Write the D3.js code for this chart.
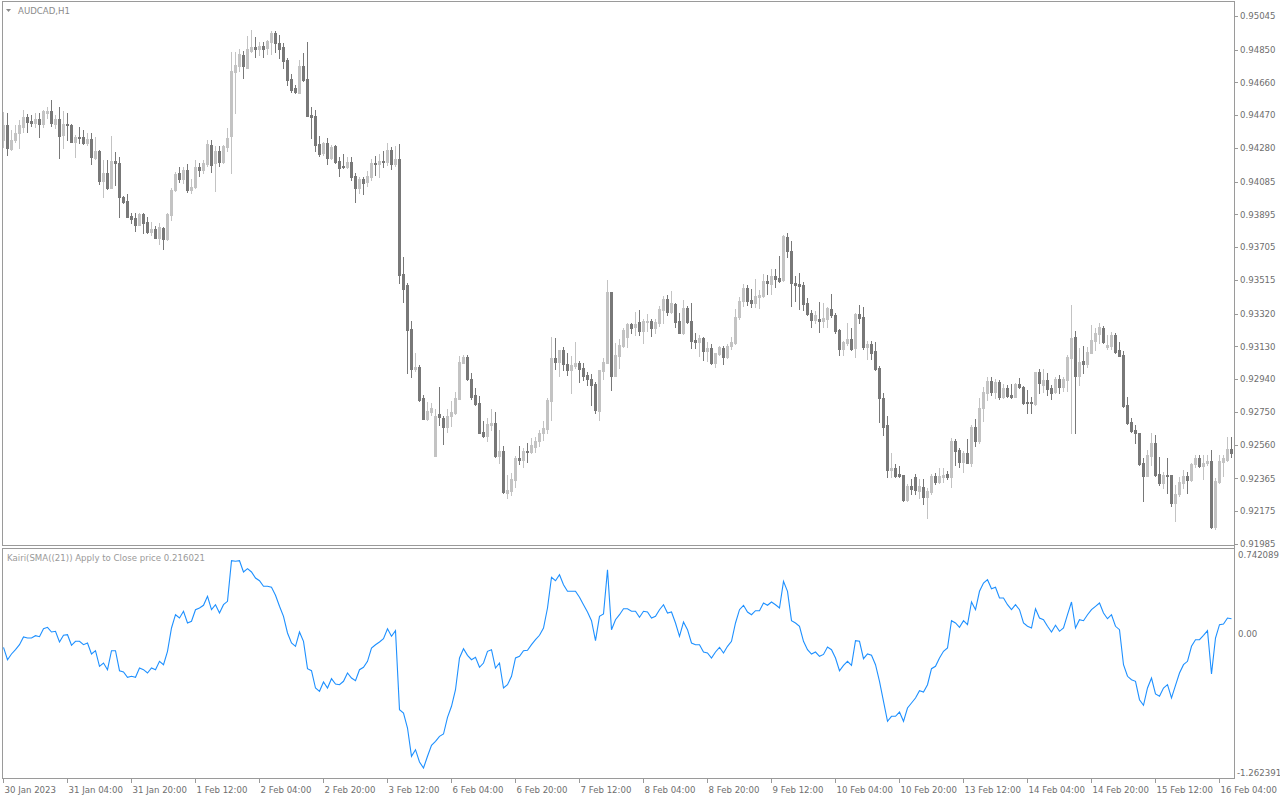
<!DOCTYPE html>
<html><head><meta charset="utf-8">
<script src="https://cdn.jsdelivr.net/npm/d3@7"></script>
<style>body{margin:0;background:#fff}svg{display:block}</style>
</head><body>
<svg id="c" width="1280" height="800"></svg>
<script>
const symbolLabel = "AUDCAD,H1";
const indicatorLabel = "Kairi(SMA((21)) Apply to Close price 0.216021";

const open = [
.94326,.94413,.94274,.94326,.94367,.94402,.94460,.94436,.94425,.94448,
.94419,.94483,.94494,.94419,.94448,.94355,.94419,.94413,.94315,.94344,
.94344,.94309,.94332,.94222,.94263,.94089,.94135,.94048,.94205,.94193,
.93996,.93973,.93886,.93874,.93834,.93897,.93851,.93793,.93810,.93758,
.93816,.93752,.93892,.94037,.94135,.94100,.94153,.94037,.94054,.94170,
.94153,.94187,.94297,.94193,.94263,.94199,.94286,.94349,.94721,.94755,
.94819,.94744,.94842,.94865,.94854,.94871,.94860,.94894,.94946,.94889,
.94865,.94790,.94680,.94628,.94599,.94755,.94680,.94471,.94465,.94303,
.94251,.94309,.94222,.94291,.94205,.94176,.94170,.94199,.94118,.94048,
.94100,.94083,.94112,.94193,.94187,.94205,.94199,.94268,.94187,.94216,
.93550,.93486,.93231,.92999,.93011,.92831,.92710,.92750,.92495,.92739,
.92715,.92663,.92727,.92744,.92825,.93034,.93068,.92941,.92849,.92802,
.92634,.92611,.92675,.92686,.92495,.92524,.92281,.92292,.92356,.92484,
.92472,.92524,.92518,.92547,.92582,.92628,.92652,.92814,.93063,.93040,
.93109,.93028,.92994,.93016,.93034,.93005,.92965,.92941,.92912,.92756,
.92988,.93034,.93445,.92959,.93074,.93132,.93184,.93260,.93242,.93271,
.93219,.93271,.93277,.93236,.93266,.93341,.93405,.93329,.93376,.93277,
.93208,.93352,.93277,.93167,.93155,.93178,.93103,.93121,.93034,.93086,
.93121,.93068,.93132,.93150,.93300,.93393,.93468,.93399,.93381,.93416,
.93422,.93509,.93492,.93538,.93526,.93515,.93764,.93683,.93497,.93492,
.93486,.93381,.93323,.93283,.93289,.93277,.93289,.93347,.93312,.93225,
.93115,.93150,.93173,.93121,.93318,.93300,.93126,.93144,.93103,.93005,
.92831,.92675,.92414,.92426,.92391,.92385,.92240,.92321,.92373,.92292,
.92316,.92258,.92287,.92379,.92345,.92373,.92391,.92373,.92582,.92530,
.92460,.92513,.92455,.92663,.92582,.92773,.92860,.92930,.92866,.92924,
.92837,.92889,.92849,.92837,.92912,.92895,.92808,.92808,.92796,.92982,
.92907,.92936,.92889,.92866,.92941,.92895,.92936,.93063,.93184,.92959,
.93045,.93028,.93092,.93161,.93202,.93236,.93126,.93132,.93196,.93109,
.93080,.92791,.92692,.92646,.92628,.92455,.92379,.92495,.92570,.92391,
.92339,.92385,.92385,.92223,.92275,.92339,.92379,.92356,.92449,.92484,
.92437,.92455,.92466,.92084,.92345,.92460,.92472,.92536];

const high = [
.94488,.94483,.94384,.94413,.94442,.94500,.94477,.94471,.94483,.94483,
.94500,.94518,.94558,.94471,.94518,.94494,.94483,.94419,.94355,.94402,
.94384,.94367,.94367,.94344,.94268,.94210,.94210,.94349,.94257,.94228,
.94002,.94013,.93903,.93903,.93903,.93903,.93880,.93851,.93828,.93845,
.93822,.93903,.94048,.94141,.94170,.94170,.94187,.94100,.94210,.94193,
.94210,.94326,.94326,.94291,.94291,.94297,.94396,.94836,.94836,.94854,
.94842,.94929,.94964,.94923,.94894,.94894,.94906,.94958,.94958,.94935,
.94889,.94802,.94709,.94645,.94790,.94831,.94894,.94518,.94500,.94349,
.94315,.94338,.94297,.94297,.94228,.94245,.94228,.94228,.94135,.94112,
.94112,.94147,.94216,.94234,.94245,.94263,.94309,.94286,.94291,.94303,
.93648,.93497,.93277,.93092,.93022,.92849,.92808,.92802,.92767,.92895,
.92727,.92767,.92814,.92866,.93074,.93080,.93080,.92976,.92889,.92843,
.92698,.92715,.92767,.92750,.92646,.92553,.92385,.92397,.92495,.92553,
.92541,.92570,.92599,.92605,.92646,.92698,.92831,.93184,.93178,.93109,
.93126,.93092,.93074,.93155,.93045,.93034,.92982,.92970,.92924,.92994,
.93063,.93515,.93445,.93150,.93173,.93236,.93266,.93266,.93329,.93341,
.93289,.93318,.93289,.93289,.93364,.93422,.93428,.93451,.93381,.93323,
.93399,.93364,.93381,.93208,.93196,.93184,.93155,.93144,.93092,.93132,
.93132,.93144,.93184,.93347,.93416,.93492,.93486,.93463,.93521,.93457,
.93550,.93544,.93579,.93579,.93654,.93776,.93787,.93741,.93538,.93555,
.93503,.93410,.93341,.93335,.93387,.93381,.93358,.93434,.93323,.93231,
.93161,.93266,.93236,.93323,.93370,.93358,.93161,.93161,.93155,.93016,
.92860,.92727,.92513,.92449,.92437,.92385,.92333,.92362,.92391,.92362,
.92362,.92310,.92391,.92397,.92426,.92426,.92408,.92599,.92594,.92541,
.92524,.92594,.92675,.92710,.92831,.92895,.92953,.92953,.92941,.92936,
.92912,.92907,.92912,.92918,.92947,.92901,.92878,.92837,.92982,.92999,
.92999,.92976,.92907,.92953,.92965,.92953,.93080,.93370,.93219,.93121,
.93132,.93126,.93254,.93236,.93266,.93248,.93196,.93213,.93208,.93155,
.93103,.92837,.92715,.92675,.92628,.92484,.92530,.92628,.92617,.92489,
.92402,.92484,.92385,.92327,.92373,.92414,.92402,.92455,.92501,.92501,
.92501,.92501,.92530,.92368,.92501,.92501,.92605,.92605];

const low = [
.94286,.94239,.94268,.94315,.94280,.94373,.94373,.94407,.94402,.94344,
.94402,.94454,.94407,.94396,.94222,.94280,.94326,.94315,.94228,.94309,
.94303,.94297,.94187,.94216,.94071,.93996,.94042,.94048,.94066,.93880,
.93961,.93880,.93845,.93799,.93834,.93787,.93787,.93776,.93758,.93723,
.93694,.93747,.93863,.94031,.94083,.94077,.94025,.94019,.94048,.94118,
.94135,.94176,.94141,.94031,.94176,.94193,.94263,.94135,.94483,.94726,
.94686,.94744,.94836,.94807,.94819,.94807,.94825,.94825,.94836,.94802,
.94744,.94645,.94605,.94599,.94599,.94668,.94465,.94338,.94263,.94234,
.94239,.94187,.94216,.94193,.94118,.94164,.94164,.94095,.93967,.94019,
.94013,.94060,.94095,.94124,.94112,.94170,.94181,.94158,.94176,.93497,
.93387,.92976,.92953,.92988,.92814,.92710,.92704,.92733,.92495,.92675,
.92565,.92634,.92669,.92739,.92825,.93034,.92936,.92825,.92791,.92628,
.92605,.92582,.92646,.92489,.92455,.92281,.92252,.92269,.92316,.92449,
.92431,.92460,.92513,.92518,.92553,.92588,.92628,.92704,.92999,.92959,
.92994,.92965,.92860,.93005,.92924,.92936,.92907,.92791,.92744,.92704,
.92941,.93034,.92878,.92959,.93005,.93126,.93126,.93208,.93196,.93196,
.93150,.93219,.93190,.93208,.93248,.93266,.93312,.93323,.93242,.93208,
.93202,.93266,.93121,.93121,.93074,.93051,.93045,.93028,.93011,.93080,
.93028,.93063,.93115,.93144,.93289,.93364,.93370,.93358,.93358,.93352,
.93416,.93434,.93434,.93474,.93503,.93509,.93648,.93364,.93393,.93347,
.93341,.93312,.93242,.93266,.93213,.93242,.93242,.93300,.93208,.93080,
.93080,.93138,.93109,.93068,.93266,.93115,.93057,.93057,.92994,.92692,
.92617,.92373,.92373,.92373,.92373,.92234,.92234,.92275,.92275,.92252,
.92217,.92136,.92275,.92333,.92339,.92345,.92362,.92316,.92443,.92431,
.92402,.92455,.92437,.92553,.92570,.92698,.92820,.92849,.92831,.92825,
.92831,.92837,.92831,.92837,.92889,.92796,.92744,.92744,.92791,.92860,
.92866,.92849,.92825,.92860,.92860,.92872,.92872,.92628,.92628,.92907,
.92976,.93011,.93092,.93109,.93150,.93150,.93115,.93115,.93092,.93074,
.92779,.92681,.92634,.92570,.92443,.92234,.92379,.92443,.92379,.92327,
.92310,.92281,.92206,.92119,.92263,.92310,.92281,.92350,.92431,.92431,
.92362,.92443,.92078,.92072,.92339,.92379,.92466,.92489];

const close = [
.94413,.94280,.94326,.94367,.94413,.94460,.94430,.94425,.94448,.94419,
.94494,.94494,.94425,.94448,.94349,.94419,.94413,.94315,.94344,.94338,
.94309,.94332,.94228,.94263,.94089,.94135,.94048,.94205,.94193,.93996,
.93967,.93880,.93868,.93834,.93897,.93845,.93793,.93810,.93758,.93822,
.93752,.93897,.94037,.94129,.94100,.94153,.94037,.94054,.94170,.94153,
.94193,.94303,.94181,.94263,.94199,.94291,.94338,.94726,.94761,.94825,
.94755,.94854,.94865,.94854,.94871,.94854,.94900,.94946,.94889,.94854,
.94784,.94674,.94616,.94605,.94755,.94674,.94465,.94460,.94297,.94245,
.94309,.94222,.94286,.94199,.94164,.94170,.94199,.94112,.94048,.94100,
.94077,.94118,.94193,.94187,.94205,.94199,.94268,.94187,.94216,.93544,
.93463,.93225,.92999,.93011,.92820,.92710,.92756,.92773,.92727,.92721,
.92663,.92727,.92750,.92831,.93040,.93068,.92941,.92837,.92796,.92628,
.92611,.92681,.92686,.92495,.92524,.92287,.92298,.92362,.92484,.92472,
.92524,.92518,.92559,.92582,.92628,.92657,.92820,.93063,.93040,.93109,
.93028,.92994,.93022,.93034,.92999,.92959,.92941,.92907,.92762,.92994,
.93040,.93445,.92959,.93080,.93138,.93225,.93260,.93236,.93260,.93219,
.93277,.93277,.93236,.93271,.93347,.93405,.93329,.93381,.93271,.93208,
.93352,.93271,.93161,.93155,.93178,.93103,.93121,.93034,.93092,.93126,
.93068,.93132,.93155,.93300,.93393,.93468,.93393,.93381,.93422,.93428,
.93509,.93497,.93538,.93521,.93509,.93770,.93683,.93497,.93486,.93480,
.93376,.93318,.93283,.93312,.93277,.93294,.93352,.93312,.93219,.93115,
.93155,.93173,.93115,.93318,.93294,.93126,.93144,.93092,.92999,.92831,
.92663,.92414,.92426,.92379,.92379,.92240,.92321,.92304,.92298,.92321,
.92258,.92292,.92379,.92345,.92379,.92385,.92373,.92582,.92524,.92460,
.92513,.92455,.92663,.92582,.92773,.92866,.92930,.92866,.92924,.92837,
.92889,.92843,.92837,.92912,.92895,.92802,.92802,.92802,.92982,.92918,
.92936,.92883,.92860,.92941,.92895,.92941,.93068,.93178,.92959,.93040,
.93028,.93097,.93167,.93208,.93242,.93155,.93138,.93196,.93097,.93074,
.92785,.92686,.92640,.92628,.92449,.92379,.92501,.92570,.92385,.92339,
.92385,.92379,.92223,.92275,.92345,.92379,.92356,.92449,.92484,.92437,
.92455,.92466,.92084,.92350,.92466,.92484,.92536,.92513];

const kairi = [
-0.1183,-0.2269,-0.1770,-0.1394,-0.0956,-0.0282,-0.0369,-0.0369,-0.0168,-0.0256,
0.0445,0.0567,0.0156,0.0217,-0.0720,-0.0133,-0.0081,-0.1008,-0.0658,-0.0658,
-0.0956,-0.0807,-0.1770,-0.1481,-0.2847,-0.2558,-0.3144,-0.1481,-0.1481,-0.3232,
-0.3345,-0.3809,-0.3722,-0.3809,-0.2995,-0.3144,-0.3433,-0.2995,-0.3144,-0.2409,
-0.2707,-0.1534,0.0506,0.1670,0.1381,0.1968,0.0944,0.1092,0.2108,0.2257,
0.2493,0.3281,0.2108,0.2545,0.1819,0.2545,0.2843,0.6397,0.6344,0.6397,
0.5408,0.5697,0.5408,0.4883,0.4646,0.4156,0.4156,0.4069,0.3368,0.2405,
0.1530,0.0068,-0.0807,-0.1096,0.0156,-0.0658,-0.3057,-0.3232,-0.4746,-0.5035,
-0.4221,-0.4746,-0.3932,-0.4396,-0.4457,-0.4159,-0.3433,-0.3871,-0.4107,-0.3144,
-0.2934,-0.2409,-0.1245,-0.0956,-0.0720,-0.0431,0.0445,-0.0221,0.0270,-0.6645,
-0.6934,-0.8247,-1.0724,-1.0147,-1.1223,-1.1749,-1.0724,-0.9762,-0.9411,-0.8974,
-0.8773,-0.7311,-0.6348,-0.4895,-0.2120,-0.1306,-0.1884,-0.2269,-0.2059,-0.2934,
-0.2558,-0.1534,-0.1394,-0.2995,-0.2558,-0.4746,-0.4457,-0.3722,-0.2120,-0.1971,
-0.1481,-0.1446,-0.0956,-0.0518,-0.0133,0.0506,0.2257,0.4944,0.4646,0.5171,
0.4296,0.3718,0.3718,0.3718,0.3193,0.2545,0.1906,0.1145,-0.0606,0.1530,
0.1731,0.5609,0.0357,0.1232,0.1670,0.2195,0.2195,0.1968,0.1968,0.1443,
0.1968,0.1906,0.1381,0.1530,0.2108,0.2545,0.1819,0.1906,0.0944,-0.0221,
0.1031,0.0357,-0.0807,-0.0956,-0.0956,-0.1595,-0.1682,-0.2120,-0.1595,-0.1183,
-0.1682,-0.1096,-0.0658,0.0944,0.2108,0.2493,0.1906,0.1670,0.2020,0.2020,
0.2694,0.2493,0.2782,0.2545,0.2257,0.4594,0.3718,0.1145,0.0944,0.0655,
-0.0658,-0.1394,-0.1770,-0.1595,-0.1971,-0.1805,-0.1157,-0.1394,-0.2120,-0.3232,
-0.2759,-0.2409,-0.2759,-0.0606,-0.0658,-0.2181,-0.1770,-0.1884,-0.2707,-0.4159,
-0.5910,-0.7661,-0.7223,-0.7223,-0.6847,-0.7661,-0.6497,-0.6059,-0.5621,-0.4982,
-0.5096,-0.4457,-0.3057,-0.2847,-0.2120,-0.1534,-0.1245,0.1145,0.0944,0.0567,
0.1145,0.0795,0.2782,0.2108,0.3718,0.4445,0.4734,0.3946,0.4069,0.3132,
0.3132,0.2545,0.2108,0.2545,0.2108,0.0944,0.0655,0.0506,0.2195,0.1381,
0.1232,0.0655,0.0156,0.0742,0.0217,0.0506,0.1670,0.2782,0.0506,0.1232,
0.1145,0.1670,0.2108,0.2405,0.2694,0.1819,0.1320,0.1670,0.0655,0.0357,
-0.2707,-0.3722,-0.4019,-0.4159,-0.5770,-0.6260,-0.4746,-0.3871,-0.5271,-0.5473,
-0.4746,-0.4457,-0.5621,-0.4510,-0.3433,-0.2707,-0.2409,-0.1096,-0.0518,-0.0518,
-0.0133,0.0270,-0.3521,-0.0369,0.0795,0.0856,0.1381,0.1320];

const timeLabels = ["30 Jan 2023","31 Jan 04:00","31 Jan 20:00","1 Feb 12:00","2 Feb 04:00",
"2 Feb 20:00","3 Feb 12:00","6 Feb 04:00","6 Feb 20:00","7 Feb 12:00","8 Feb 04:00",
"8 Feb 20:00","9 Feb 12:00","10 Feb 04:00","10 Feb 20:00","13 Feb 12:00","14 Feb 04:00",
"14 Feb 20:00","15 Feb 12:00","16 Feb 04:00"];
const timeLabelBars = [0,16,32,48,64,80,96,112,128,144,160,176,192,208,224,240,256,272,288,304];
const priceTicks = [0.95045,0.94850,0.94660,0.94470,0.94280,0.94085,0.93895,0.93705,0.93515,
0.93320,0.93130,0.92940,0.92750,0.92560,0.92365,0.92175,0.91985];
const kairiTicks = [0.742089, 0, -1.262391];
const kairiTickLabels = ["0.742089","0.00","-1.262391"];

const FONT = "8.6px 'DejaVu Sans', sans-serif";
const UP = "#c3c3c3", DN = "#787878", FRAME = "#9a9a9a", TXT = "#6e6e6e";

const svg = d3.select("#c");
const n = open.length;
const x = d3.scaleLinear().domain([0, n - 1]).range([3, 3 + 4 * (n - 1)]);
const y = d3.scaleLinear().domain([0.91985, 0.95045]).range([544, 16]);
const yk = d3.scaleLinear().domain([-1.262391, 0.742089]).range([778, 549]);

// frames
svg.append("rect").attr("x", 2.5).attr("y", 1.5).attr("width", 1232).attr("height", 544)
  .attr("fill", "none").attr("stroke", FRAME);
svg.append("rect").attr("x", 2.5).attr("y", 548.5).attr("width", 1232).attr("height", 230)
  .attr("fill", "none").attr("stroke", FRAME);

svg.append("clipPath").attr("id", "cm").append("rect").attr("x", 3).attr("y", 2).attr("width", 1231).attr("height", 543);
svg.append("clipPath").attr("id", "ck").append("rect").attr("x", 3).attr("y", 549).attr("width", 1231).attr("height", 229);

// candles
const bars = d3.range(n).map(i => ({i, o: open[i], h: high[i], l: low[i], c: close[i]}));
const col = d => d.c > d.o ? UP : DN;
const cg = svg.append("g").attr("clip-path", "url(#cm)").attr("shape-rendering", "crispEdges");
cg.selectAll("line").data(bars).join("line")
  .attr("x1", d => Math.round(x(d.i)) + 0.5).attr("x2", d => Math.round(x(d.i)) + 0.5)
  .attr("y1", d => Math.round(y(d.h))).attr("y2", d => Math.round(y(d.l)) + 1)
  .attr("stroke", col).attr("stroke-width", 1);
cg.selectAll("rect").data(bars).join("rect")
  .attr("x", d => Math.round(x(d.i)) - 1).attr("width", 3)
  .attr("y", d => Math.round(y(Math.max(d.o, d.c))))
  .attr("height", d => Math.max(1, Math.round(y(Math.min(d.o, d.c))) - Math.round(y(Math.max(d.o, d.c))) + 1))
  .attr("fill", col);

// kairi line
svg.append("path").datum(kairi).attr("clip-path", "url(#ck)")
  .attr("d", d3.line().x((v, i) => Math.round(x(i)) + 0.5).y(v => yk(v)))
  .attr("fill", "none").attr("stroke", "#1e90ff").attr("stroke-width", 1.1);

// price axis
svg.append("g").attr("transform", "translate(1234,0)")
  .call(d3.axisRight(y).tickValues(priceTicks).tickFormat(d3.format(".5f")).tickSize(4).tickPadding(2))
  .call(g => g.select(".domain").remove())
  .call(g => g.selectAll("line").attr("stroke", FRAME).attr("shape-rendering", "crispEdges"))
  .call(g => g.selectAll("text").attr("fill", TXT).style("font", FONT));

// kairi axis
svg.append("g").attr("transform", "translate(1234,0)")
  .call(d3.axisRight(yk).tickValues(kairiTicks).tickFormat((d, k) => kairiTickLabels[k]).tickSize(0).tickPadding(4))
  .call(g => g.select(".domain").remove())
  .call(g => g.selectAll(".tick").attr("transform", d => `translate(0,${Math.min(Math.max(yk(d), 555), 773.5)})`))
  .call(g => g.selectAll("text").attr("fill", TXT).style("font", FONT))
  .call(g => g.selectAll(".tick").filter(d => d < 0).select("text").attr("x", 3));

// right axis line
svg.append("line").attr("x1", 1234.5).attr("x2", 1234.5).attr("y1", 1).attr("y2", 779)
  .attr("stroke", FRAME);

// time axis
svg.append("g").attr("transform", "translate(0,778)")
  .call(d3.axisBottom(x).tickValues(timeLabelBars).tickFormat((d, k) => timeLabels[k]).tickSize(5).tickPadding(4))
  .call(g => g.select(".domain").remove())
  .call(g => g.selectAll("line").attr("stroke", FRAME).attr("shape-rendering", "crispEdges"))
  .call(g => g.selectAll("text").attr("fill", TXT).style("font", FONT).attr("text-anchor", "start").attr("x", 1));

// header labels
svg.append("path").attr("d", "M6,9 L11,9 L8.5,12 Z").attr("fill", "#8a8a8a");
svg.append("text").attr("x", 18).attr("y", 13.5).text(symbolLabel).attr("fill", "#8a8a8a").style("font", FONT);
svg.append("text").attr("x", 7).attr("y", 561).text(indicatorLabel).attr("fill", "#999").style("font", FONT);
</script>
</body></html>
